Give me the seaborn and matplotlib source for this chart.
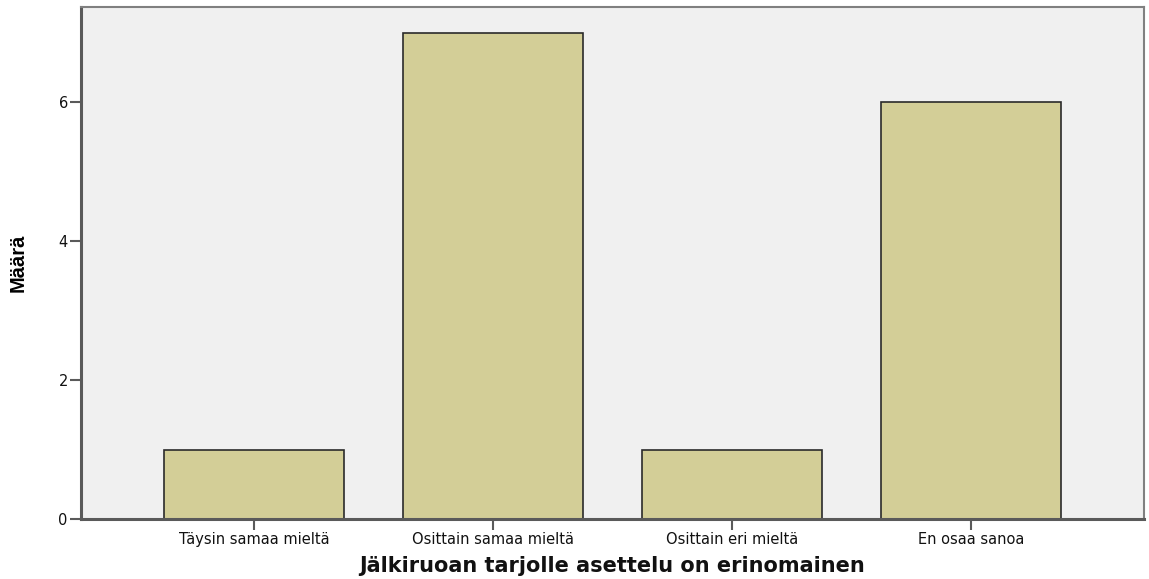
import matplotlib.pyplot as plt
import seaborn as sns
import pandas as pd

# Data
categories = ['Täysin samaa mieltä', 'Osittain samaa mieltä', 'Osittain eri mieltä', 'En osaa sanoa']
counts = [1, 7, 1, 6]

BAR_COLOR = '#d3ce97'
BG_COLOR = '#f0f0f0'
SPINE_COLOR = '#5a5a5a'

sns.set_style('white')
plt.rcParams['font.family'] = ['DejaVu Sans']

df = pd.DataFrame({'category': categories, 'count': counts})

fig = plt.figure(figsize=(11.49, 5.79), dpi=100)
ax = fig.add_axes([0.0705, 0.1036, 0.9252, 0.8843])
ax.set_facecolor(BG_COLOR)

sns.barplot(data=df, x='category', y='count', color=BAR_COLOR, width=0.753,
            edgecolor='#2a2a2a', linewidth=1.2, saturation=1, ax=ax)

ax.set_xlim(-0.724, 3.724)
ax.set_ylim(0, 7.37)
ax.set_yticks([0, 2, 4, 6])

for side in ['left', 'bottom']:
    ax.spines[side].set_color(SPINE_COLOR)
    ax.spines[side].set_linewidth(2.2)
for side in ['top', 'right']:
    ax.spines[side].set_color('#808080')
    ax.spines[side].set_linewidth(1.5)

ax.tick_params(axis='both', which='major', direction='out', length=8, width=1.5,
               color=SPINE_COLOR, bottom=True, left=True,
               labelsize=10.5, labelcolor='#111111', pad=1.5)

ax.set_xlabel('Jälkiruoan tarjolle asettelu on erinomainen', fontsize=15,
              fontweight='bold', color='#111111', labelpad=6)
ax.set_ylabel('Määrä', fontsize=14.5, fontweight='bold', labelpad=22, color='#000000',
              family=['Liberation Sans Narrow', 'Liberation Sans', 'DejaVu Sans'])

fig.savefig('out.png', dpi=100)
plt.close(fig)
